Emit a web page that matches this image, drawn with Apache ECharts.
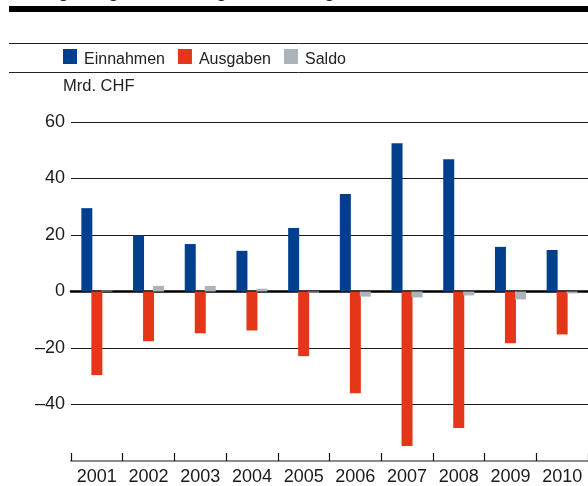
<!DOCTYPE html>
<html>
<head>
<meta charset="utf-8">
<script src="https://cdn.jsdelivr.net/npm/echarts@6/dist/echarts.min.js"></script>
<style>
    html, body { margin: 0; padding: 0; background: #fff; }
    #container { width: 588px; height: 486px; }
</style>
</head>
<body>
<div id="container"></div>
<script type="text/javascript">
    // Jahre und Werte in Mrd. CHF
    var years = ['2001', '2002', '2003', '2004', '2005', '2006', '2007', '2008', '2009', '2010'];
    var einnahmen = [29.5, 19.9, 16.8, 14.4, 22.5, 34.5, 52.5, 46.8, 15.8, 14.7];
    var ausgaben = [-29.6, -17.6, -14.8, -13.8, -22.9, -36.0, -54.7, -48.3, -18.3, -15.2];
    var saldo = [0.3, 2.0, 2.0, 1.0, -0.4, -1.8, -2.1, -1.4, -2.8, -0.7];
    var yTicks = [-60, -40, -20, 0, 20, 40, 60];

    var font = '"Liberation Sans", Arial, Helvetica, sans-serif';
    var dom = document.getElementById('container');
    var myChart = echarts.init(dom, null, {renderer: 'canvas'});

    var option = {
        backgroundColor: '#fff',
        animation: false,
        textStyle: {fontFamily: font},
        graphic: [
            // abgeschnittener Titel, nur die Unterlängen sind sichtbar
            {type: 'text', left: 9, top: -16.5, style: {text: 'Auslagerung der Zahlungsabwicklung', font: 'bold 18px ' + font, fill: '#111'}},
            {type: 'rect', shape: {x: 9, y: 6, width: 590, height: 6}, style: {fill: '#000'}},
            {type: 'line', shape: {x1: 9, y1: 43.5, x2: 588, y2: 43.5}, style: {stroke: '#222', lineWidth: 1}},
            {type: 'line', shape: {x1: 9, y1: 72.5, x2: 588, y2: 72.5}, style: {stroke: '#222', lineWidth: 1}},
            {type: 'text', left: 63, top: 78, style: {text: 'Mrd. CHF', font: '16.5px ' + font, fill: '#222'}}
        ],
        legend: {
            left: 63,
            top: 49,
            padding: 0,
            itemWidth: 14,
            itemHeight: 15,
            itemGap: 13,
            icon: 'rect',
            formatter: '{t|{name}}',
            textStyle: {
                fontSize: 16, color: '#222', fontFamily: font,
                rich: {t: {fontSize: 16, color: '#222', fontFamily: font, padding: [6, 0, 0, 2]}}
            },
            data: ['Einnahmen', 'Ausgaben', 'Saldo']
        },
        grid: {left: 71, right: -4, top: 122, bottom: 23, containLabel: false},
        xAxis: [{
            type: 'category',
            data: years,
            position: 'bottom',
            axisLine: {onZero: false, lineStyle: {color: '#8a8a8a', width: 2}},
            axisTick: {show: true, inside: true, interval: 0, alignWithLabel: false, length: 8, lineStyle: {color: '#111', width: 1.2}},
            axisLabel: {interval: 0, fontSize: 18, color: '#1a1a1a', margin: 7, fontFamily: font},
            splitLine: {show: false}
        }, {
            // Nulllinie
            type: 'category',
            data: years,
            position: 'top',
            axisLine: {onZero: true, lineStyle: {color: '#000', width: 2.5}},
            axisTick: {show: false},
            axisLabel: {show: false}
        }],
        yAxis: {
            type: 'value',
            min: yTicks[0],
            max: yTicks[yTicks.length - 1],
            interval: 20,
            axisLine: {show: false},
            axisTick: {show: false},
            axisLabel: {
                fontSize: 18,
                color: '#1a1a1a',
                margin: 6,
                fontFamily: font,
                formatter: function (v) {
                    if (v === yTicks[0]) return '';
                    return v < 0 ? '\u2013' + Math.abs(v) : String(v);
                }
            },
            splitLine: {lineStyle: {color: '#1a1a1a', width: 1.2}}
        },
        series: [{
            name: 'Einnahmen',
            type: 'bar',
            data: einnahmen,
            barWidth: 11,
            barGap: '-9%',
            itemStyle: {color: '#003f8e'}
        }, {
            name: 'Ausgaben',
            type: 'bar',
            data: ausgaben,
            barWidth: 11,
            barGap: '-9%',
            itemStyle: {color: '#e43619'}
        }, {
            name: 'Saldo',
            type: 'bar',
            data: saldo,
            barWidth: 11,
            barGap: '-9%',
            itemStyle: {color: '#adb4b9'}
        }]
    };

    myChart.setOption(option);
</script>
</body>
</html>
